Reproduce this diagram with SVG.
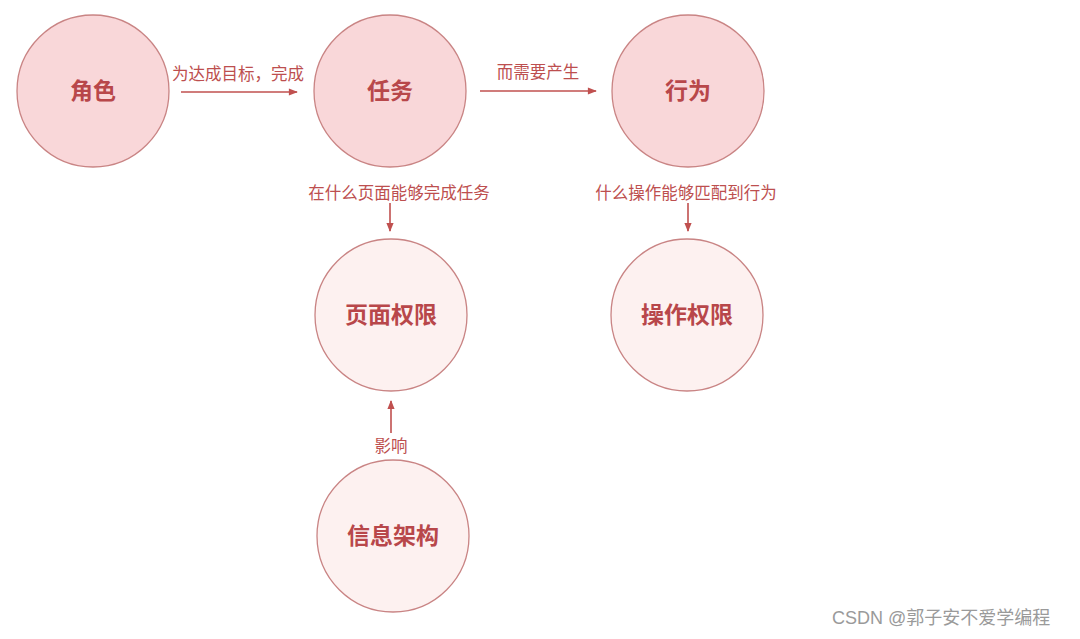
<svg xmlns="http://www.w3.org/2000/svg" width="1080" height="639" viewBox="0 0 1080 639">
<style>
.n{stroke:#c98484;stroke-width:1.3}
.t1{fill:#f9d7d9}
.t2{fill:#fdf1f0}
.nt{font-family:"Noto Sans CJK SC","Noto Sans",sans-serif;font-size:23px;font-weight:bold;fill:#b8474a;text-anchor:middle}
.lb{font-family:"Noto Sans CJK SC","Noto Sans",sans-serif;font-size:16.5px;fill:#bd4f4f;text-anchor:middle}
.c{stroke:#c0504f;stroke-width:1.6;fill:none}
.wm{font-family:"Liberation Sans","Noto Sans CJK SC",sans-serif;font-size:18px;fill:#9a9a9a}
</style>
<defs>
<marker id="ah" viewBox="0 0 10 10" refX="9" refY="5" markerWidth="10" markerHeight="9" orient="auto" markerUnits="userSpaceOnUse">
<path d="M0,1 L10,5 L0,9 z" fill="#c0504f"/>
</marker>
</defs>
<rect width="1080" height="639" fill="#ffffff"/>
<g id="node-role"><circle class="n t1" cx="93" cy="91" r="76"/><text class="nt" x="93" y="99">角色</text></g>
<g id="node-task"><circle class="n t1" cx="390" cy="91" r="76"/><text class="nt" x="390" y="99">任务</text></g>
<g id="node-behavior"><circle class="n t1" cx="688" cy="91" r="76"/><text class="nt" x="688" y="99">行为</text></g>
<g id="node-page"><circle class="n t2" cx="391" cy="315" r="76"/><text class="nt" x="391" y="323">页面权限</text></g>
<g id="node-op"><circle class="n t2" cx="687" cy="315" r="76"/><text class="nt" x="687" y="323">操作权限</text></g>
<g id="node-info"><circle class="n t2" cx="393" cy="536" r="76"/><text class="nt" x="393" y="544">信息架构</text></g>
<g id="connectors">
<line class="c" x1="181" y1="92" x2="297" y2="92" marker-end="url(#ah)"/>
<text class="lb" x="238" y="80">为达成目标，完成</text>
<line class="c" x1="480" y1="91" x2="596" y2="91" marker-end="url(#ah)"/>
<text class="lb" x="538" y="78">而需要产生</text>
<text class="lb" x="399" y="199">在什么页面能够完成任务</text>
<line class="c" x1="390" y1="203" x2="390" y2="231" marker-end="url(#ah)"/>
<text class="lb" x="686" y="199">什么操作能够匹配到行为</text>
<line class="c" x1="688" y1="203" x2="688" y2="231" marker-end="url(#ah)"/>
<line class="c" x1="391" y1="433" x2="391" y2="401" marker-end="url(#ah)"/>
<text class="lb" x="391" y="452">影响</text>
</g>
<text class="wm" x="832" y="624">CSDN @郭子安不爱学编程</text>
</svg>
